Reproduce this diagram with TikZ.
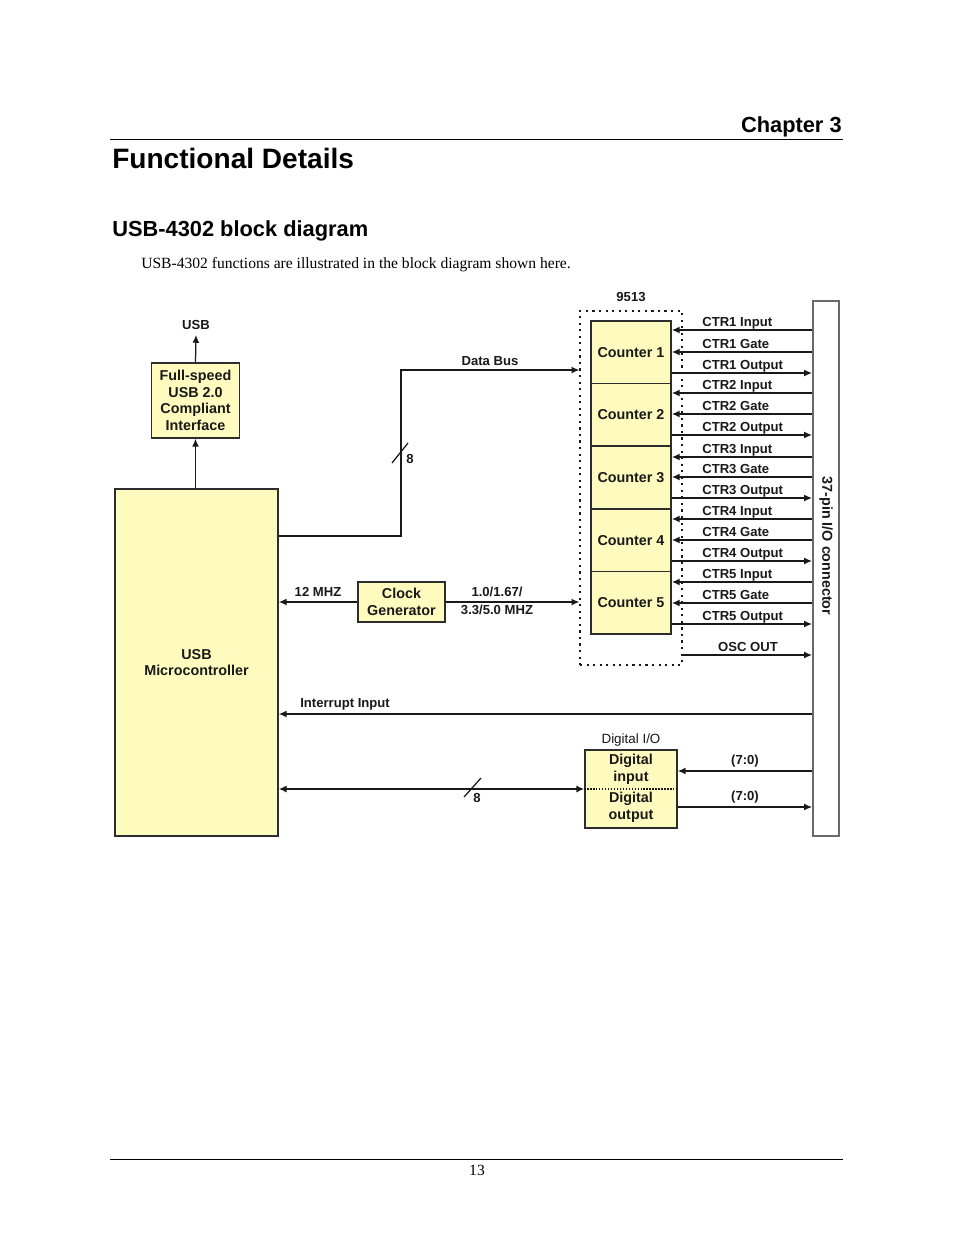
\documentclass[tikz,border=0pt]{standalone}
\usepackage{fontspec}
\setmainfont{Liberation Sans}
\newfontfamily\timesfont{Liberation Serif}
\usetikzlibrary{arrows.meta}
\newdimen\pxu \pxu=0.6415pt
\definecolor{boxfill}{RGB}{255,251,190}
\definecolor{boxline}{RGB}{45,45,45}
\definecolor{conline}{RGB}{105,105,105}
\definecolor{ink}{RGB}{25,25,25}
\tikzset{
  lbl/.style={font=\fontsize{8.4}{10}\selectfont\bfseries, text=ink, inner sep=0pt},
  blktext/.style={font=\fontsize{9.2}{10.7}\selectfont\bfseries, text=ink, align=center, inner sep=0pt},
  blk/.style={blktext, draw=boxline, line width=1pt, fill=boxfill},
  tip/.style={-{Latex[length=5pt,width=4.4pt]}},
  wire/.style={draw=ink, line width=0.8pt},
  sig/.style={wire, tip},
}
\begin{document}
\begin{tikzpicture}[x=0.6415pt,y=-0.6415pt]
\useasboundingbox[fill=white] (0,0) rectangle (954,1235);

% page header / footer
\node[font=\fontsize{14}{16}\selectfont\bfseries, anchor=base east, inner sep=0pt] (chap) at (842,132.5) {Chapter 3};
\draw[line width=0.7pt] (110,139.5) -- (843,139.5);
\node[font=\fontsize{18}{20}\selectfont\bfseries, anchor=base west, inner sep=0pt] (title) at (112,168) {Functional Details};
\node[font=\fontsize{14}{16}\selectfont\bfseries, anchor=base west, inner sep=0pt] (sec) at (112,236) {USB-4302 block diagram};
\node[font=\timesfont\fontsize{10}{12}\selectfont, anchor=base west, inner sep=0pt] (body) at (141,268) {USB-4302 functions are illustrated in the block diagram shown here.};
\draw[line width=0.6pt] (110,1159) -- (843,1159);
\node[font=\timesfont\fontsize{10}{12}\selectfont, anchor=base, inner sep=0pt] (pg) at (477,1175) {13};

% left column
\node[blk, minimum width=88\pxu, minimum height=75\pxu] (usbif) at (195.5,400.5) {Full-speed\\USB 2.0\\Compliant\\Interface};
\node[lbl] (usb) at (196,325) {USB};
\node[blk, minimum width=163\pxu, minimum height=347\pxu] (micro) at (196.5,662.5) {USB\\Microcontroller};
\draw[sig] (usbif.north) -- ([yshift=-5\pxu]usb.south);
\draw[sig] (usbif.south |- micro.north) -- (usbif.south);

% 9513 chip
\node[draw=ink, line width=0.9pt, dash pattern=on 1.4pt off 2.8pt, minimum width=102\pxu, minimum height=354\pxu, inner sep=0pt] (chip) at (631,488) {};
\node[lbl] (chipname) at (631,297) {9513};

% connector
\node[draw=conline, line width=1.3pt, fill=white, minimum width=26\pxu, minimum height=535\pxu, inner sep=0pt] (conn) at (826,568.5) {};
\node[font=\fontsize{9.2}{11}\selectfont\bfseries, text=ink, rotate=-90, inner sep=0pt] (connlbl) at (826,546) {37-pin I/O connector};

% counters and their signals
\foreach \k/\yc/\yi/\yg/\yo in {1/352.3/330/352/373, 2/414.9/393/414/435, 3/477.5/457/477/498, 4/540.1/519/540/561, 5/602.7/582/603/624}{
  \node[blk, line width=1.1pt, minimum width=80\pxu, minimum height=62.6\pxu] (c\k) at (631,\yc) {Counter \k};
  \coordinate (i\k) at (812,\yi);
  \coordinate (g\k) at (812,\yg);
  \coordinate (o\k) at (812,\yo);
  \draw[sig] (i\k -| conn.west) -- (i\k -| c\k.east);
  \draw[sig] (g\k -| conn.west) -- (g\k -| c\k.east);
  \draw[sig] (o\k -| c\k.east) -- (o\k -| conn.west);
  \node[lbl, anchor=base west] (li\k) at (702,\yi-3.5) {CTR\k{} Input};
  \node[lbl, anchor=base west] (lg\k) at (702,\yg-3.5) {CTR\k{} Gate};
  \node[lbl, anchor=base west] (lo\k) at (702,\yo-3.5) {CTR\k{} Output};
}
\coordinate (osc) at (812,655);
\draw[sig] (osc -| chip.east) -- (osc -| conn.west);
\node[lbl] (osclbl) at (748,647) {OSC OUT};

% data bus
\coordinate (dbs) at (401,536);
\coordinate (dbk) at (401,370);
\draw[sig] (dbs -| micro.east) -- (dbs) -- (dbk) -- (dbk -| chip.west);
\node[lbl] (dblbl) at (490,361) {Data Bus};
\draw[wire] (392,463) -- (408,443);
\node[lbl] (db8) at (410,459) {8};

% clock generator
\node[blk, minimum width=87\pxu, minimum height=40\pxu] (clk) at (401.5,602) {Clock\\Generator};
\draw[sig] (clk.west) -- (clk.west -| micro.east);
\draw[sig] (clk.east) -- (clk.east -| chip.west);
\node[lbl] (f12) at (318,592) {12 MHZ};
\node[lbl] (fa) at (497,592) {1.0/1.67/};
\node[lbl] (fb) at (497,610) {3.3/5.0 MHZ};

% interrupt
\coordinate (irq) at (812,714);
\draw[sig] (irq -| conn.west) -- (irq -| micro.east);
\node[lbl, anchor=west] (irqlbl) at (300,704) {Interrupt Input};

% digital I/O
\node[blk, minimum width=92\pxu, minimum height=78\pxu] (dio) at (631,789) {};
\draw[draw=ink, densely dotted, line width=0.9pt] (dio.west) -- (dio.east);
\node[blktext] (dioi) at (631,769.5) {Digital\\input};
\node[blktext] (dioo) at (631,807.5) {Digital\\output};
\node[font=\fontsize{8.6}{10}\selectfont, text=ink, inner sep=0pt] (diolbl) at (631,740) {Digital I/O};
\draw[draw=ink, line width=1.3pt, {Latex[length=5pt,width=4.6pt]}-{Latex[length=5pt,width=4.6pt]}] (dio.west -| micro.east) -- (dio.west);
\draw[wire] (464,797) -- (481,778);
\node[lbl] (dio8) at (477,798) {8};
\coordinate (dii) at (812,771);
\coordinate (dout) at (812,807);
\draw[sig] (dii -| conn.west) -- (dii -| dio.east);
\draw[sig] (dout -| dio.east) -- (dout -| conn.west);
\node[lbl] (dil) at (745,761) {(7:0)};
\node[lbl] (dol) at (745,797) {(7:0)};
\end{tikzpicture}
\end{document}
